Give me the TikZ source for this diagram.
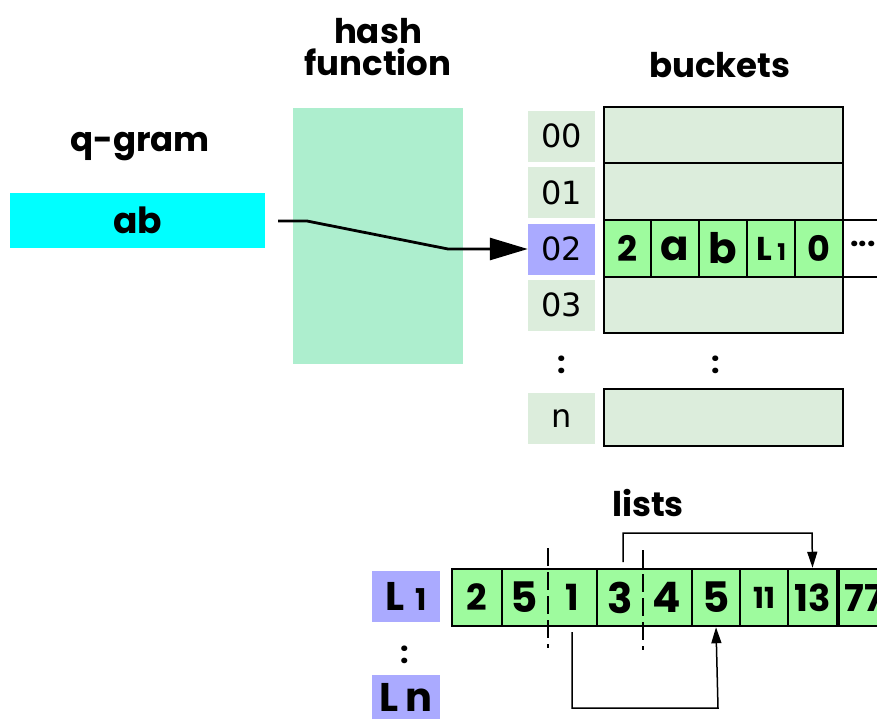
\documentclass[tikz,border=0pt]{standalone}
\usepackage{fontspec}
\setmainfont{Poppins}
\newfontfamily\dejavu{DejaVu Sans}
\usetikzlibrary{arrows.meta}
\definecolor{hashc}{HTML}{ADEECE}
\definecolor{qcyan}{HTML}{00FFFF}
\definecolor{idxg}{HTML}{DCEDDC}
\definecolor{idxb}{HTML}{AAAAFF}
\definecolor{cellg}{HTML}{9EFB9E}
\begin{document}
\begin{tikzpicture}[x=1pt,y=-1pt,
  title/.style={font=\fontsize{34}{40}\selectfont\bfseries, align=center, inner sep=0},
  idx/.style={fill=idxg, minimum width=67pt, minimum height=51pt, inner sep=0, font=\dejavu\fontsize{32}{34}\selectfont},
  row/.style={draw, line width=2.5pt, fill=idxg, minimum width=239pt, minimum height=57pt, inner sep=0},
  cell/.style={draw, line width=2.5pt, fill=cellg, minimum height=57pt, inner sep=0, font=\fontsize{35}{37}\selectfont\bfseries},
  big/.style={font=\fontsize{42}{44}\selectfont\bfseries},
  num/.style={font=\fontsize{36}{38}\selectfont\bfseries, inner sep=0},
  lab/.style={fill=idxb, inner sep=0, font=\fontsize{40}{42}\selectfont\bfseries},
  dots/.style={font=\fontsize{30}{32}\selectfont\bfseries, inner sep=0},
  conn/.style={line width=2.8pt},
  dashv/.style={line width=1.3pt, dash pattern=on 18pt off 6pt}
]
\useasboundingbox (0,0) rectangle (877,721);
% titles
\node[title] (thash) at (378,47) {hash\\[-8pt]function};
\node[title] (tq) at (140,147) {q-gram};
\node[title] (tb) at (720,65) {buckets};
\node[title] (tl) at (648,503) {lists};
% hash box
\node[fill=hashc, minimum width=170pt, minimum height=256pt, inner sep=0] (hash) at (377.5,236) {};
% q-gram
\node[fill=qcyan, minimum width=255pt, minimum height=55pt, inner sep=0, font=\fontsize{36}{38}\selectfont\bfseries] (ab) at (137.5,220.5) {ab};
% indices
\node[idx] (i0) at (561.5,136) {00};
\node[idx] (i1) at (561.5,192.5) {01};
\node[idx, fill=idxb] (i2) at (561.5,249) {02};
\node[idx] (i3) at (561.5,305) {03};
\node[dots] (id) at (561.5,365) {:};
\node[idx] (in) at (561.5,418.5) {n};
% buckets
\draw[line width=2.5pt, fill=idxg] (604,107) rectangle (843,333);
\coordinate (b0) at (604,163);
\coordinate (b1) at (604,220);
\coordinate (b2) at (604,277);
\draw[line width=2.5pt] (604,163) -- (843,163);
\draw[line width=2.5pt] (604,220) -- (877,220);
\draw[line width=2.5pt] (604,277) -- (877,277);
\node[cell, minimum width=47.5pt] (c1) at (627.5,248.5) {2};
\node[cell, big, minimum width=48pt] (c2) at (675,248.5) {a};
\node[cell, big, minimum width=48pt] (c3) at (723,248.5) {b};
\node[cell, minimum width=48pt] (c4) at (771,248.5) {\fontsize{33}{35}\selectfont L\,{\fontsize{23}{24}\selectfont 1}};
\node[cell, minimum width=48pt] (c5) at (819,248.5) {0};
\node[dots, anchor=east] (cdots) at (876,244) {...};
\node[dots] (bd) at (716,365) {:};
\node[row] (bn) at (723.5,417.5) {};
% arrow from q-gram
\coordinate (s0) at (278,221);
\draw[conn, -{Triangle[length=38pt, width=22pt]}] (s0) -- (307,221) -- (448,249) -- (i2.west);
% lists
\node[lab, minimum width=68pt, minimum height=51pt] (L1) at (406,596.5) {L\;{\fontsize{30}{32}\selectfont 1}};
\node[dots] (ld) at (405,655) {:};
\node[lab, minimum width=68pt, minimum height=44pt, text depth=0pt] (Ln) at (406,697) {L\,n};
\node[cell, minimum width=50pt, num] (l1) at (477,597.5) {2};
\node[cell, minimum width=95pt] (l2) at (549.5,597.5) {};
\node[cell, minimum width=95pt] (l3) at (644.5,597.5) {};
\node[cell, big, minimum width=48pt] (l4) at (716,597.5) {5};
\node[cell, minimum width=48pt, font=\fontsize{29}{31}\selectfont\bfseries] (l5) at (764,597.5) {11};
\node[cell, minimum width=49pt, font=\fontsize{37}{39}\selectfont\bfseries] (l6) at (812.5,597.5) {13};
\node[cell, minimum width=50pt, font=\fontsize{37}{39}\selectfont\bfseries] (l7) at (864,597.5) {77};
\node[num, big] (n5) at (524,597.5) {5};
\node[num] (n1) at (572,597.5) {1};
\node[num, big] (n3) at (620,597.5) {3};
\node[num, big] (n4) at (667,597.5) {4};
\coordinate (d1a) at (548,548);
\coordinate (d1b) at (548,648);
\coordinate (d2a) at (643,550);
\coordinate (d2b) at (643,650);
\draw[dashv] (d1a) -- (d1b);
\draw[dashv] (d2a) -- (d2b);
% list pointers
\coordinate (p1) at (623,562);
\draw[line width=1.5pt, -{Triangle[length=16pt, width=10pt]}] (p1) |- (812,533) -- (l6.north);
\coordinate (p2) at (572,632);
\draw[line width=1.5pt, -{Triangle[length=16pt, width=10pt]}] (p2) |- (718,708) -- (l4.south);
\end{tikzpicture}
\end{document}
